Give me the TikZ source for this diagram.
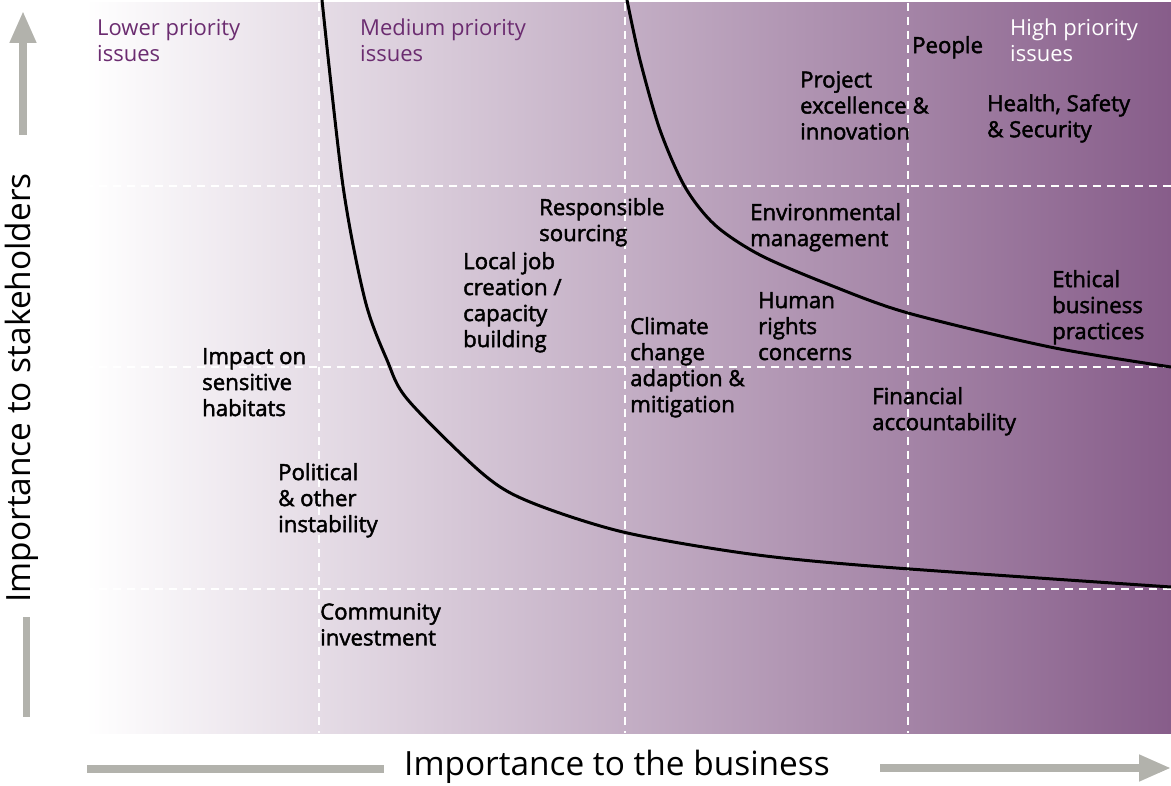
\documentclass[tikz,border=0pt]{standalone}
\usepackage{fontspec}
\setmainfont{Open Sans}
\newfontfamily\issueFont[FakeBold=2]{Open Sans}
\usetikzlibrary{arrows.meta}
\definecolor{matrixPlum}{RGB}{135,93,138}
\definecolor{priorityPurple}{RGB}{107,44,112}
\definecolor{axisGray}{RGB}{178,178,172}
\tikzset{
  issueLabel/.style={anchor=north west, inner sep=0pt, align=left, text=black,
    font=\issueFont\fontsize{22.2}{26}\selectfont},
  priorityLabel/.style={anchor=north west, inner sep=0pt, align=left,
    font=\fontsize{22}{26}\selectfont},
  axisTitle/.style={inner sep=0pt, font=\fontsize{33.4}{37}\selectfont},
  gridLine/.style={white, line width=1.4pt, dash pattern=on 8pt off 6pt},
  boundary/.style={black, line width=3pt},
  axisArrow/.style={axisGray, line width=7.5pt,
    -{Triangle[length=32pt, width=25pt]}},
  axisBar/.style={axisGray, line width=7.5pt}
}

\begin{document}
\begin{tikzpicture}[x=1pt, y=-1pt]
  \useasboundingbox (0,0) rectangle (1171,786);

  % background gradient and quadrant grid
  \shade[left color=white, right color=matrixPlum] (85,3) rectangle (1171,733);
  \foreach \gx in {319,625,908}
    \draw[gridLine] (\gx,3) -- (\gx,733);
  \foreach \gy in {186,367,589}
    \draw[gridLine] (85,\gy) -- (1171,\gy);

  % priority boundaries
  \draw[boundary] plot[smooth, tension=0.5] coordinates {(322,0) (343,186)
    (365,300) (387,360) (408,400) (483,474) (530,502) (623,532)
    (750,554) (883,567) (1171,587)};
  \draw[boundary] plot[smooth, tension=0.5] coordinates {(627,0) (640,60)
    (660,130) (685,187) (715,225) (760,255) (830,285) (908,313) (1050,347)
    (1171,367)};

  % priority zones
  \node[priorityLabel, text=priorityPurple] (lowZone) at (97,19) {Lower priority\\issues};
  \node[priorityLabel, text=priorityPurple] (medZone) at (360,19) {Medium priority\\issues};
  \node[priorityLabel, text=white] (highZone) at (1010,19) {High priority\\issues};

  % issues
  \node[issueLabel] (people) at (912,36) {People};
  \node[issueLabel] (project) at (800,71) {Project\\excellence \&\\innovation};
  \node[issueLabel] (health) at (987,94) {Health, Safety\\\& Security};
  \node[issueLabel] (sourcing) at (539,198) {Responsible\\sourcing};
  \node[issueLabel] (environment) at (750,203) {Environmental\\management};
  \node[issueLabel] (localJobs) at (463,252) {Local job\\creation /\\capacity\\building};
  \node[issueLabel] (ethics) at (1052,270) {Ethical\\business\\practices};
  \node[issueLabel] (rights) at (758,292) {Human\\rights\\concerns};
  \node[issueLabel] (climate) at (630,317) {Climate\\change\\adaption \&\\mitigation};
  \node[issueLabel] (habitats) at (202,348) {Impact on\\sensitive\\habitats};
  \node[issueLabel] (finance) at (872,387) {Financial\\accountability};
  \node[issueLabel] (political) at (278,463) {Political\\\& other\\instability};
  \node[issueLabel] (community) at (320,603) {Community\\investment};

  % axes
  \node[axisTitle, rotate=90] (yTitle) at (22,388) {Importance to stakeholders};
  \node[axisTitle] (xTitle) at (617,767) {Importance to the business};
  \coordinate (yTop) at (23,11);
  \coordinate (yShaft) at (23,135);
  \coordinate (yBarTop) at (26.5,617);
  \coordinate (yBarEnd) at (26.5,717);
  \coordinate (xBarStart) at (87,769);
  \coordinate (xBarEnd) at (384,769);
  \coordinate (xShaft) at (880,768);
  \coordinate (xTip) at (1171,768);
  \draw[axisArrow] (yShaft) -- (yTop);
  \draw[axisBar] (yBarTop) -- (yBarEnd);
  \draw[axisBar] (xBarStart) -- (xBarEnd);
  \draw[axisArrow] (xShaft) -- (xTip);
\end{tikzpicture}
\end{document}
